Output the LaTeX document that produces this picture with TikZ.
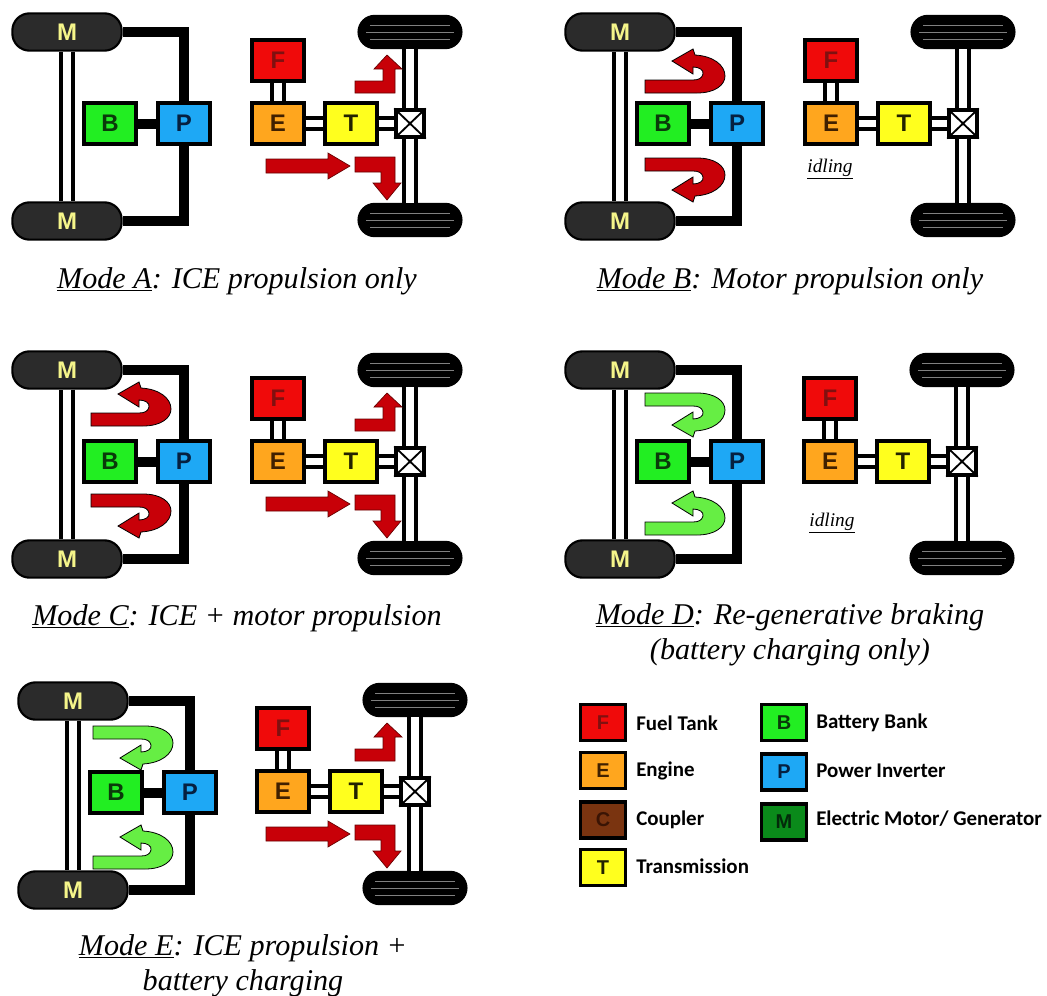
\documentclass[tikz,border=0pt]{standalone}
\usepackage{fontspec}
\setmainfont{Liberation Serif}
\newfontfamily\lblfont{Carlito}
\newfontfamily\boxfont{Liberation Sans}
\definecolor{cF}{HTML}{F00A0A}\definecolor{cE}{HTML}{FFA61E}\definecolor{cT}{HTML}{FFFF1E}
\definecolor{cB}{HTML}{22EE22}\definecolor{cP}{HTML}{1EA8F5}\definecolor{cC}{HTML}{7A3410}
\definecolor{cM}{HTML}{0A8A1A}\definecolor{cMot}{HTML}{2B2B2B}\definecolor{cMt}{HTML}{F5F58A}
\definecolor{cRed}{HTML}{C80008}\definecolor{cGrn}{HTML}{66EE44}
\definecolor{tF}{HTML}{801010}\definecolor{tE}{HTML}{402000}\definecolor{tT}{HTML}{222200}
\definecolor{tB}{HTML}{0A3A0A}\definecolor{tP}{HTML}{062040}\definecolor{tC}{HTML}{3A1404}\definecolor{tM}{HTML}{032A0A}
\tikzset{
  comp/.style={draw=black,line width=2.6pt,minimum width=39pt,minimum height=31pt,inner sep=0pt,font=\boxfont\bfseries\fontsize{18}{18}\selectfont},
  legbox/.style={draw=black,line width=2.4pt,minimum width=34pt,minimum height=27pt,inner sep=0pt,font=\boxfont\bfseries\fontsize{15}{15}\selectfont},
  motor/.style={draw=black,line width=1.6pt,fill=cMot,rounded corners=13pt,minimum width=82pt,minimum height=28pt,inner sep=0pt,text=cMt,font=\boxfont\bfseries\fontsize{18}{18}\selectfont},
  wheel/.style={draw=black,line width=.8pt,fill=black,rounded corners=12.5pt,minimum width=78pt,minimum height=25pt,inner sep=0pt},
  groove/.style={draw=black!50,line width=.6pt},
  shaft/.style={draw=black,line width=3pt,double=white,double distance=5.6pt},
  link/.style={draw=black,line width=7.5pt},
  coupler/.style={draw=black,line width=2.6pt,fill=white,minimum width=21pt,minimum height=20pt,inner sep=0pt},
  flow/.style={draw=black!60!red,line width=.5pt,fill=cRed},
  uflow/.style={draw=black,line width=.6pt,fill=#1},
  caption/.style={inner sep=0pt,align=center,font=\itshape\fontsize{22.6}{26.5}\selectfont},
  legtext/.style={inner sep=0pt,anchor=west,font=\lblfont\bfseries\fontsize{15.7}{16}\selectfont},
  idle/.style={inner sep=0pt,font=\itshape\fontsize{14.5}{15}\selectfont},
}
\newcommand{\leftpart}[3]{%
 \begin{scope}[shift={(#2,#3)}]
  \node[motor] (#1Mt) at (67,32) {M};
  \node[motor] (#1Mb) at (67,221) {M};
  \node[comp,fill=cB,text=tB] (#1B) at (110,123.5) {B};
  \node[comp,fill=cP,text=tP] (#1P) at (184,123.5) {P};
  \draw[shaft] (#1Mt.south) -- (#1Mb.north);
  \draw[link] (#1B.east) -- (#1P.west);
  \draw[link] (#1P.north) |- (#1Mt.east);
  \draw[link] (#1P.south) |- (#1Mb.east);
 \end{scope}}
\newcommand{\rightpart}[3]{%
 \begin{scope}[shift={(#2,#3)}]
  \node[comp,fill=cF,text=tF] (#1F) at (278,60.5) {F};
  \node[comp,fill=cE,text=tE] (#1E) at (278,123.5) {E};
  \node[comp,fill=cT,text=tT] (#1T) at (351,123.5) {T};
  \node[coupler] (#1X) at (410,123.5) {};
  \draw[line width=1.4pt] (#1X.north west) -- (#1X.south east) (#1X.north east) -- (#1X.south west);
  \node[wheel] (#1Wt) at (410,32) {};
  \node[wheel] (#1Wb) at (410,220) {};
  \draw[groove] (370,25) -- (450,25) (366,32) -- (454,32) (370,39) -- (450,39);
  \draw[groove] (370,213) -- (450,213) (366,220) -- (454,220) (370,227) -- (450,227);
  \draw[shaft] (#1F.south) -- (#1E.north);
  \draw[shaft] (#1E.east) -- (#1T.west);
  \draw[shaft] (#1T.east) -- (#1X.west);
  \draw[shaft] (#1Wt.south) -- (#1X.north);
  \draw[shaft] (#1X.south) -- (#1Wb.north);
 \end{scope}}
\newcommand{\drive}[2]{%
 \begin{scope}[shift={(#1,#2)}]
  \draw[flow] (355,81) -- (383,81) -- (383,69) -- (374,69) -- (387,55) -- (402,69) -- (395,69) -- (395,93) -- (355,93) -- cycle;
  \draw[flow] (266,159) -- (328,159) -- (328,153) -- (350,166) -- (328,179) -- (328,173) -- (266,173) -- cycle;
  \draw[flow] (355,157) -- (395,157) -- (395,183) -- (401,183) -- (387,200) -- (373,183) -- (381,183) -- (381,172) -- (355,172) -- cycle;
 \end{scope}}
\newcommand{\uturn}[4]{%
 \begin{scope}[shift={(#1,#2)},yscale=#3]
  \draw[uflow=#4] (0,0) -- (52,0) .. controls (70,0) and (80,8) .. (80,17) .. controls (80,28) and (68,37) .. (50,38) -- (48,44) -- (27,32) -- (48,19) -- (48,26) .. controls (54,26) and (59,23) .. (58,19) .. controls (57,15) and (54,13) .. (48,13) -- (0,13) -- cycle;
 \end{scope}}
\begin{document}
\begin{tikzpicture}[x=0.75pt,y=-0.75pt]
\useasboundingbox (0,0) rectangle (1047,996);
\fill[white] (0,0) rectangle (1047,996);
% Mode A
\leftpart{a}{0}{0}\rightpart{a}{0}{0}\drive{0}{0}
\node[caption] (capA) at (237,281) {\underline{Mode A}: ICE propulsion only};
% Mode B
\leftpart{b}{553}{0}\rightpart{b}{553}{0}
\uturn{645}{93}{-1}{cRed}\uturn{645}{158}{1}{cRed}
\node[idle] (idleB) at (830,169) {\underline{idling}};
\node[caption] (capB) at (790,281) {\underline{Mode B}: Motor propulsion only};
% Mode C
\leftpart{c}{0}{338}\rightpart{c}{0}{338}\drive{0}{338}
\uturn{91}{426}{-1}{cRed}\uturn{91}{494}{1}{cRed}
\node[caption] (capC) at (237,618) {\underline{Mode C}: ICE + motor propulsion};
% Mode D
\leftpart{d}{553}{338}\rightpart{d}{552}{338}
\uturn{645}{393}{1}{cGrn}\uturn{645}{535}{-1}{cGrn}
\node[idle] (idleD) at (832,523) {\underline{idling}};
\node[caption] (capD) at (790,635) {\underline{Mode D}: Re-generative braking\\(battery charging only)};
% Mode E
\leftpart{e}{6}{669}\rightpart{e}{5}{668}\drive{0}{668}
\uturn{93}{726}{1}{cGrn}\uturn{93}{869}{-1}{cGrn}
\node[caption] (capE) at (243,966) {\underline{Mode E}: ICE propulsion +\\battery charging};
% Legend
\node[legbox,fill=cF,text=tF] (lF) at (603,722.5) {F};
\node[legbox,fill=cE,text=tE] (lE) at (603,770.5) {E};
\node[legbox,fill=cC,text=tC] (lC) at (603,820) {C};
\node[legbox,fill=cT,text=tT] (lT) at (603,867.5) {T};
\node[legbox,fill=cB,text=tB] (lB) at (784,722.5) {B};
\node[legbox,fill=cP,text=tP] (lP) at (784,772) {P};
\node[legbox,fill=cM,text=tM] (lM) at (784,822) {M};
\node[legtext] (tF) at (636,723) {Fuel Tank};
\node[legtext] (tE) at (636,771) {Engine};
\node[legtext] (tC) at (636,820) {Coupler};
\node[legtext] (tT) at (636,866) {Transmission};
\node[legtext] (tB) at (816,723) {Battery Bank};
\node[legtext] (tP) at (816,771) {Power Inverter};
\node[legtext] (tM) at (816,819) {Electric Motor/ Generator};
\end{tikzpicture}
\end{document}
